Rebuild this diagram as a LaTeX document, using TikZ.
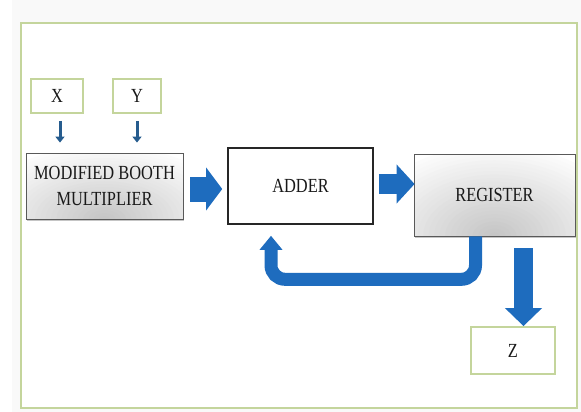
\documentclass[tikz,border=0pt]{standalone}
\usepackage{fontspec}
\setmainfont{Liberation Serif}[FakeStretch=0.82]
\usetikzlibrary{calc,arrows.meta,shadows}
\definecolor{framegreen}{RGB}{196,213,156}
\definecolor{blockblue}{RGB}{30,108,190}
\definecolor{smallblue}{RGB}{38,92,142}
\definecolor{textgray}{RGB}{25,25,25}
\tikzset{inout/.style = {draw = framegreen, line width = 1.8, fill = white, text = textgray, font = \fontsize{20}{26}\selectfont, inner sep = 0}}
\tikzset{graybox/.style 2 args = {minimum width = #1, minimum height = #2, draw = gray!70!black, line width = 0.8, fill = white,
    path picture = {\foreach \k [evaluate = \k as \c using 3+1.75*\k, evaluate = \k as \s using 1-\k/25] in {0,...,24}
        \fill [gray!\c] (path picture bounding box.south) ellipse [x radius = \s*0.85*#1, y radius = \s*1.1*#2];},
    drop shadow = {shadow xshift = 1pt, shadow yshift = -1.5pt, opacity = 0.45}, text = textgray, font = \fontsize{20}{26}\selectfont, align = center, inner sep = 0}}
\tikzset{plainbox/.style = {draw = black!85, line width = 1.6, fill = white, text = textgray, font = \fontsize{20}{26}\selectfont, inner sep = 0}}
\tikzset{bigarrow/.style = {draw = blockblue, line width = #1}}
\tikzset{thinarrow/.style = {draw = smallblue, line width = 3, -{Triangle[length = 6, width = 9]}}}

\begin{document}
\begin{tikzpicture}[x = 1pt, y = -1pt]
    \useasboundingbox (0,0) rectangle (581,412);
    \fill [gray!5] (12,0) rectangle (581,412);
    \draw [framegreen, line width = 2, fill = white] (21,23) rectangle (577,408);

    \node [inout, minimum width = 52, minimum height = 34] (x) at (57,96) {X};
    \node [inout, minimum width = 48, minimum height = 34] (y) at (137,96) {Y};
    \node [graybox = {157}{66}] (mbm) at (104.5,186) {MODIFIED BOOTH\\MULTIPLIER};
    \node [plainbox, minimum width = 145, minimum height = 76] (adder) at (300.5,186) {ADDER};
    \node [graybox = {161}{82}] (register) at (494.5,195) {REGISTER};
    \node [inout, minimum width = 84, minimum height = 47] (z) at (513,350.5) {Z};

    \coordinate (xout) at ($(x.south)+(3,7)$);
    \coordinate (yout) at ($(y.south)+(0,7)$);
    \coordinate (zin) at ($(register.south)+(29,12)$);
    \coordinate (loopstart) at ($(register.south)+(-19,0)$);
    \coordinate (loopend) at ($(adder.south)+(-29.5,11)$);

    \draw [thinarrow] (xout) -- ($(xout |- mbm.north)+(0,-10)$);
    \draw [thinarrow] (yout) -- ($(yout |- mbm.north)+(0,-10)$);

    \draw [bigarrow = 25, -{Triangle[length = 16, width = 42]}] ($(mbm.east)+(7,3)$) -- ($(adder.west)+(-5,3)$);
    \draw [bigarrow = 20, -{Triangle[length = 18, width = 38]}] ($(adder.east)+(5,-2)$) -- ($(adder.east -| register.west)+(1,-2)$);
    \draw [bigarrow = 13, rounded corners = 14, -{Triangle[length = 14, width = 22]}] (loopstart) |- ($(loopend)+(0,43.5)$) -- (loopend);
    \draw [bigarrow = 19, -{Triangle[length = 18, width = 36]}] (zin) -- (zin |- z.north);
\end{tikzpicture}
\end{document}
